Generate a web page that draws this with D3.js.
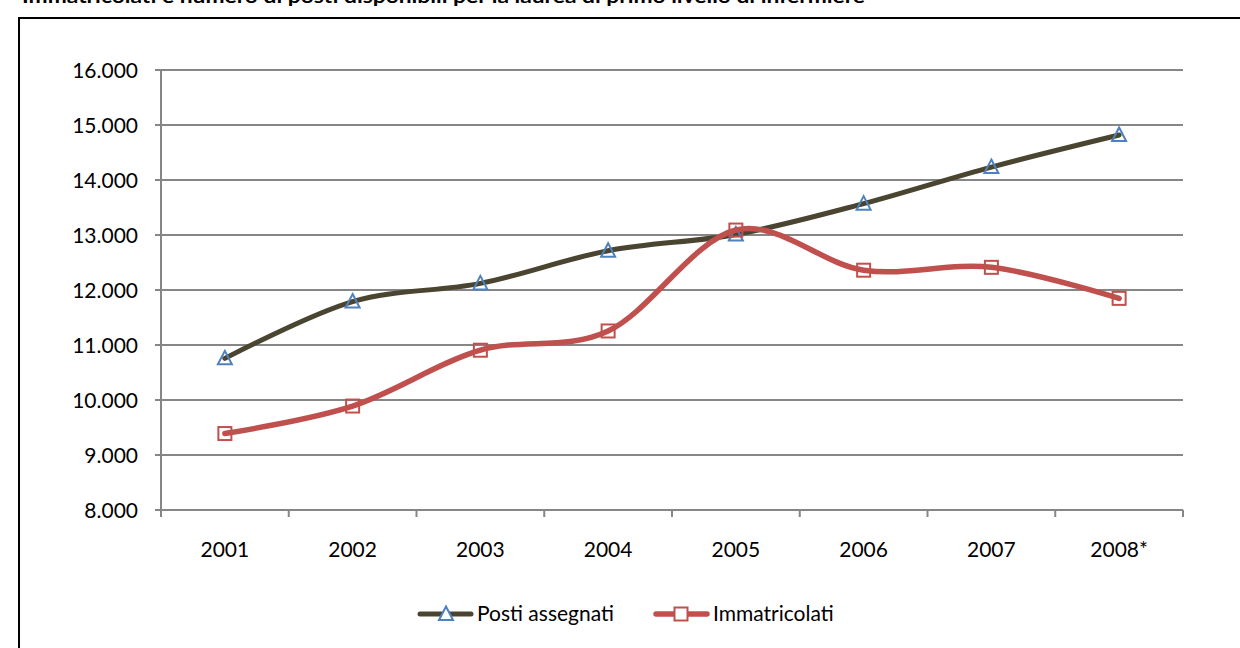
<!DOCTYPE html>
<html><head><meta charset="utf-8">
<script src="https://cdn.jsdelivr.net/npm/d3@7/dist/d3.min.js"></script>
<style>body{margin:0;background:#fff}svg{display:block}text{font-family:Lato,"Open Sans",sans-serif}</style>
</head><body><svg id="c" width="1240" height="648"></svg>
<script>
const title = "Immatricolati e numero di posti disponibili per la laurea di primo livello di infermiere";
const years = ["2001","2002","2003","2004","2005","2006","2007","2008*"];
const postiAssegnati = [10757, 11790, 12120, 12715, 13010, 13570, 14235, 14818];
const immatricolati = [9390, 9890, 10905, 11255, 13090, 12360, 12412, 11848];
const yTicks = [8000, 9000, 10000, 11000, 12000, 13000, 14000, 15000, 16000];
const seriesNames = ["Posti assegnati", "Immatricolati"];

const svg = d3.select("#c");
const plot = {l: 161, r: 1183, t: 70, b: 510};
const gridCol = "#868686";
const postiCol = "#4a4530", postiMk = "#4f81bd", immCol = "#c0504d";
const fs = 21;

// title (cropped at top, as in the reference)
svg.append("text").attr("x", 22).attr("y", 3).attr("font-weight", "bold").attr("font-size", 19)
  .attr("textLength", 843).attr("lengthAdjust", "spacingAndGlyphs").attr("fill", "#000").text(title);
// frame
svg.append("rect").attr("x", 19).attr("y", 18).attr("width", 1300).attr("height", 700)
  .attr("fill", "none").attr("stroke", "#000").attr("stroke-width", 2);

const x = d3.scaleBand().domain(years).range([plot.l, plot.r]);
const y = d3.scaleLinear().domain([8000, 16000]).range([plot.b, plot.t]);
const fmt = d3.formatLocale({decimal: ",", thousands: ".", grouping: [3], currency: ["", "€"]}).format(",");

// gridlines
svg.append("g").selectAll("line").data(yTicks).join("line")
  .attr("x1", plot.l - 6).attr("x2", plot.r).attr("y1", d => y(d)).attr("y2", d => y(d))
  .attr("stroke", gridCol).attr("stroke-width", 2);
// y axis line
svg.append("line").attr("x1", plot.l).attr("x2", plot.l).attr("y1", plot.t).attr("y2", plot.b + 6)
  .attr("stroke", gridCol).attr("stroke-width", 2);
// x ticks at band boundaries
const bounds = years.map(d => x(d)).concat([plot.r]);
svg.append("g").selectAll("line").data(bounds).join("line")
  .attr("x1", d => d).attr("x2", d => d).attr("y1", plot.b).attr("y2", plot.b + 7)
  .attr("stroke", gridCol).attr("stroke-width", 2);
// y labels
svg.append("g").selectAll("text").data(yTicks).join("text")
  .attr("x", 138).attr("y", d => y(d) + 7.5).attr("text-anchor", "end").attr("font-size", fs).attr("fill", "#000")
  .text(d => fmt(d));
// x labels
svg.append("g").selectAll("text").data(years).join("text")
  .attr("x", d => x(d) + x.bandwidth() / 2).attr("y", 557).attr("text-anchor", "middle").attr("font-size", fs).attr("fill", "#000")
  .text(d => d);

const line = d3.line().x((d, i) => x(years[i]) + x.bandwidth() / 2).y(d => y(d)).curve(d3.curveCardinal.tension(0));

function triangle(g, cx, cy, fill) {
  g.append("path").attr("d", `M${cx},${cy - 7.5}L${cx + 7},${cy + 6}L${cx - 7},${cy + 6}Z`)
    .attr("fill", fill).attr("stroke", postiMk).attr("stroke-width", 2);
}
function square(g, cx, cy, fill) {
  g.append("rect").attr("x", cx - 6.5).attr("y", cy - 6.5).attr("width", 13).attr("height", 13)
    .attr("fill", fill).attr("stroke", immCol).attr("stroke-width", 2);
}

svg.append("path").datum(postiAssegnati).attr("d", line).attr("fill", "none").attr("stroke", postiCol)
  .attr("stroke-width", 5).attr("stroke-linecap", "round");
const gm1 = svg.append("g");
postiAssegnati.forEach((v, i) => triangle(gm1, x(years[i]) + x.bandwidth() / 2, y(v), "none"));

svg.append("path").datum(immatricolati).attr("d", line).attr("fill", "none").attr("stroke", immCol)
  .attr("stroke-width", 5.5).attr("stroke-linecap", "round");
const gm2 = svg.append("g");
immatricolati.forEach((v, i) => square(gm2, x(years[i]) + x.bandwidth() / 2, y(v), "none"));

// legend
const lg = svg.append("g");
const ly = 614;
lg.append("line").attr("x1", 420).attr("x2", 471).attr("y1", ly).attr("y2", ly).attr("stroke", postiCol).attr("stroke-width", 5).attr("stroke-linecap", "round");
triangle(lg, 446, ly, "#fff");
lg.append("text").attr("x", 477).attr("y", 621).attr("font-size", fs).attr("fill", "#000").text(seriesNames[0]);
lg.append("line").attr("x1", 656).attr("x2", 707).attr("y1", ly).attr("y2", ly).attr("stroke", immCol).attr("stroke-width", 5.5).attr("stroke-linecap", "round");
square(lg, 681, ly, "#fff");
lg.append("text").attr("x", 713).attr("y", 621).attr("font-size", fs).attr("fill", "#000").text(seriesNames[1]);
</script></body></html>
